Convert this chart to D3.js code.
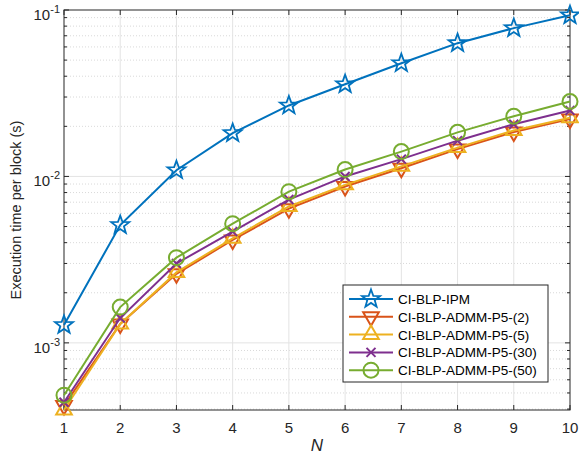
<!DOCTYPE html>
<html>
<head>
<meta charset="utf-8">
<script src="https://cdn.jsdelivr.net/npm/d3@7"></script>
<style>
body { margin: 0; background: #fff; }
text { font-family: "Liberation Sans", Arial, sans-serif; }
</style>
</head>
<body>
<svg id="chart" width="579" height="457"></svg>
<script>
// data
var N = [1, 2, 3, 4, 5, 6, 7, 8, 9, 10];
var seriesNames = ["CI-BLP-IPM", "CI-BLP-ADMM-P5-(2)", "CI-BLP-ADMM-P5-(5)", "CI-BLP-ADMM-P5-(30)", "CI-BLP-ADMM-P5-(50)"];
var ipm    = [1.28e-3, 5.1e-3, 0.0109, 0.0182, 0.0267, 0.0358, 0.0479, 0.0632, 0.0778, 0.093];
var admm2  = [4.2e-4, 1.3e-3, 2.6e-3, 4.15e-3, 6.4e-3, 8.7e-3, 0.0112, 0.0146, 0.0185, 0.0221];
var admm5  = [3.95e-4, 1.3e-3, 2.65e-3, 4.25e-3, 6.6e-3, 8.9e-3, 0.0115, 0.0149, 0.0189, 0.0225];
var admm30 = [4.4e-4, 1.41e-3, 3.0e-3, 4.66e-3, 7.26e-3, 0.0100, 0.0127, 0.0164, 0.0206, 0.0249];
var admm50 = [4.85e-4, 1.64e-3, 3.25e-3, 5.2e-3, 8.1e-3, 0.011, 0.0141, 0.0184, 0.023, 0.0282];
var yTickExp = [-3, -2, -1];

var allSeries = [ipm, admm2, admm5, admm30, admm50];
var colors = ["#0072BD", "#D95319", "#EDB120", "#7E2F8E", "#77AC30"];
var markers = ["star", "tridown", "triup", "cross", "circle"];

var svg = d3.select("#chart"),
	pL = 64, pR = 570, pT = 10, pB = 410;

var x = d3.scaleLinear().domain([1, 10]).range([pL, pR]);
var y = d3.scaleLog().domain([3.95e-4, 0.1]).range([pB, pT]);

// grid
var minor = [];
for (var e = -4; e <= -2; e++)
	for (var m = 1; m <= 9; m++) {
		var v = m * Math.pow(10, e);
		if (v > 3.95e-4 && v < 0.1 && m != 1) minor.push(v);
	}
var g = svg.append("g");
g.selectAll(".mg").data(minor).enter().append("line")
	.attr("x1", pL).attr("x2", pR)
	.attr("y1", d => y(d)).attr("y2", d => y(d))
	.attr("stroke", "#cfcfcf").attr("stroke-width", 0.8).attr("stroke-dasharray", "1,2");
g.selectAll(".xg").data(N.slice(1, 9)).enter().append("line")
	.attr("x1", d => x(d)).attr("x2", d => x(d))
	.attr("y1", pT).attr("y2", pB)
	.attr("stroke", "#e3e3e3").attr("stroke-width", 1);
g.selectAll(".yg").data([1e-3, 1e-2]).enter().append("line")
	.attr("x1", pL).attr("x2", pR)
	.attr("y1", d => y(d)).attr("y2", d => y(d))
	.attr("stroke", "#e3e3e3").attr("stroke-width", 1);

// axes (ticks inward, box)
var axG = svg.append("g").attr("fill", "none").attr("stroke", "#262626").attr("stroke-width", 1);
axG.append("rect").attr("x", pL).attr("y", pT).attr("width", pR - pL).attr("height", pB - pT);
N.forEach(function(d) {
	axG.append("line").attr("x1", x(d)).attr("x2", x(d)).attr("y1", pB).attr("y2", pB - 5);
	axG.append("line").attr("x1", x(d)).attr("x2", x(d)).attr("y1", pT).attr("y2", pT + 5);
});
yTickExp.forEach(function(e) {
	var yy = y(Math.pow(10, e));
	axG.append("line").attr("x1", pL).attr("x2", pL + 5).attr("y1", yy).attr("y2", yy);
	axG.append("line").attr("x1", pR).attr("x2", pR - 5).attr("y1", yy).attr("y2", yy);
});
minor.forEach(function(v) {
	axG.append("line").attr("x1", pL).attr("x2", pL + 3).attr("y1", y(v)).attr("y2", y(v));
	axG.append("line").attr("x1", pR).attr("x2", pR - 3).attr("y1", y(v)).attr("y2", y(v));
});

svg.selectAll(".xl").data(N).enter().append("text")
	.attr("x", d => x(d)).attr("y", pB + 23)
	.attr("text-anchor", "middle").attr("font-size", 15).attr("fill", "#262626")
	.text(d => d);

yTickExp.forEach(function(e) {
	var t = svg.append("text").attr("x", pL - 4).attr("y", y(Math.pow(10, e)) + 10)
		.attr("text-anchor", "end").attr("font-size", 15).attr("fill", "#262626");
	t.append("tspan").text("10");
	t.append("tspan").attr("dy", -7).attr("font-size", 11).text(e);
});

svg.append("text").attr("transform", "translate(21," + ((pT + pB) / 2) + ") rotate(-90)")
	.attr("text-anchor", "middle").attr("font-size", 14.5).attr("fill", "#262626")
	.text("Execution time per block (s)");
svg.append("text").attr("x", (pL + pR) / 2).attr("y", 451)
	.attr("text-anchor", "middle").attr("font-size", 17).attr("font-style", "italic")
	.attr("font-family", "'Liberation Serif', 'DejaVu Serif', serif").attr("fill", "#262626")
	.text("N");

function drawMarker(sel, type, cx, cy, c) {
	if (type == "star") {
		var pts = [];
		for (var i = 0; i < 10; i++) {
			var r = i % 2 == 0 ? 9.5 : 3.9, a = -Math.PI / 2 + i * Math.PI / 5;
			pts.push([cx + r * Math.cos(a), cy + r * Math.sin(a)]);
		}
		sel.append("polygon").attr("points", pts.map(p => p.join(",")).join(" "))
			.attr("fill", "none").attr("stroke", c).attr("stroke-width", 1.8);
	} else if (type == "tridown" || type == "triup") {
		var s = type == "triup" ? -1 : 1, r = 9;
		var pts = [[cx, cy + s * r], [cx - r * 0.87, cy - s * r * 0.5], [cx + r * 0.87, cy - s * r * 0.5]];
		sel.append("polygon").attr("points", pts.map(p => p.join(",")).join(" "))
			.attr("fill", "none").attr("stroke", c).attr("stroke-width", 2);
	} else if (type == "cross") {
		var r = 4.5;
		sel.append("path").attr("d", "M" + (cx - r) + "," + (cy - r) + "L" + (cx + r) + "," + (cy + r) +
			"M" + (cx - r) + "," + (cy + r) + "L" + (cx + r) + "," + (cy - r))
			.attr("stroke", c).attr("stroke-width", 2);
	} else {
		sel.append("circle").attr("cx", cx).attr("cy", cy).attr("r", 7.5)
			.attr("fill", "none").attr("stroke", c).attr("stroke-width", 2);
	}
}

var line = d3.line().x((d, i) => x(N[i])).y(d => y(d));
allSeries.forEach(function(s, k) {
	var sg = svg.append("g");
	sg.append("path").datum(s).attr("d", line)
		.attr("fill", "none").attr("stroke", colors[k]).attr("stroke-width", 2);
	s.forEach(function(v, i) { drawMarker(sg, markers[k], x(N[i]), y(v), colors[k]); });
});

// legend
var lg = svg.append("g");
lg.append("rect").attr("x", 343).attr("y", 285).attr("width", 205).attr("height", 97)
	.attr("fill", "#fff").attr("stroke", "#262626").attr("stroke-width", 1);
seriesNames.forEach(function(name, k) {
	var yy = 299 + k * 17.8;
	lg.append("line").attr("x1", 349).attr("x2", 393).attr("y1", yy).attr("y2", yy)
		.attr("stroke", colors[k]).attr("stroke-width", 2);
	drawMarker(lg, markers[k], 371, yy, colors[k]);
	lg.append("text").attr("x", 398).attr("y", yy + 5).attr("font-size", 13.5).attr("fill", "#000").text(name);
});
</script>
</body>
</html>
